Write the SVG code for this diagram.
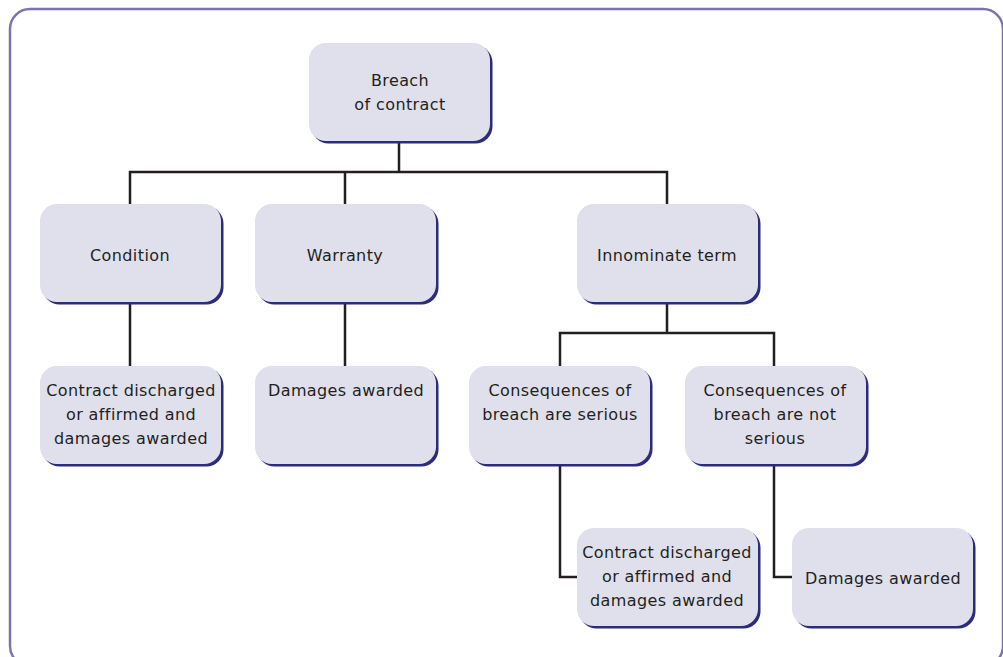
<svg xmlns="http://www.w3.org/2000/svg" width="1003" height="657" viewBox="0 0 1003 657">
<style>
.sh{fill:#2d2b7c}
.bx{fill:#e0dfec}
.t{font-family:"DejaVu Sans",sans-serif;font-size:16px;letter-spacing:0.4px;fill:#231f20;text-anchor:middle;dominant-baseline:central}
.c{fill:none;stroke:#231f20;stroke-width:2.5}
</style>
<rect x="10" y="9" width="993" height="657" rx="20" fill="#ffffff" stroke="#7b72b1" stroke-width="2.5"/>
<g id="connectors">
<path class="c" d="M399 142V172M130 204V172H667V204M345 172V204"/>
<path class="c" d="M130 303V366M345 303V366"/>
<path class="c" d="M667 303V333M560 366V333H774V366"/>
<path class="c" d="M560 465V577H578M774 465V577H793"/>
</g>
<g id="breach"><rect class="sh" x="311.5" y="45.5" width="181" height="98" rx="17"/><rect class="bx" x="309" y="43" width="181" height="98" rx="17"/><text class="t" x="400" y="80">Breach</text><text class="t" x="400" y="104">of contract</text></g>
<g id="condition"><rect class="sh" x="42.5" y="206.5" width="181" height="98" rx="17"/><rect class="bx" x="40" y="204" width="181" height="98" rx="17"/><text class="t" x="130" y="255">Condition</text></g>
<g id="warranty"><rect class="sh" x="257.5" y="206.5" width="181" height="98" rx="17"/><rect class="bx" x="255" y="204" width="181" height="98" rx="17"/><text class="t" x="345" y="255">Warranty</text></g>
<g id="innominate"><rect class="sh" x="579.5" y="206.5" width="181" height="98" rx="17"/><rect class="bx" x="577" y="204" width="181" height="98" rx="17"/><text class="t" x="667" y="255">Innominate term</text></g>
<g id="cond-result"><rect class="sh" x="42.5" y="368.5" width="181" height="98" rx="17"/><rect class="bx" x="40" y="366" width="181" height="98" rx="17"/><text class="t" x="131" y="390">Contract discharged</text><text class="t" x="131" y="414">or affirmed and</text><text class="t" x="131" y="438">damages awarded</text></g>
<g id="warr-result"><rect class="sh" x="257.5" y="368.5" width="181" height="98" rx="17"/><rect class="bx" x="255" y="366" width="181" height="98" rx="17"/><text class="t" x="346" y="390">Damages awarded</text></g>
<g id="serious"><rect class="sh" x="471.5" y="368.5" width="181" height="98" rx="17"/><rect class="bx" x="469" y="366" width="181" height="98" rx="17"/><text class="t" x="560" y="390">Consequences of</text><text class="t" x="560" y="414">breach are serious</text></g>
<g id="not-serious"><rect class="sh" x="687.5" y="368.5" width="181" height="98" rx="17"/><rect class="bx" x="685" y="366" width="181" height="98" rx="17"/><text class="t" x="775" y="390">Consequences of</text><text class="t" x="775" y="414">breach are not</text><text class="t" x="775" y="438">serious</text></g>
<g id="serious-result"><rect class="sh" x="579.5" y="530.5" width="181" height="98" rx="17"/><rect class="bx" x="577" y="528" width="181" height="98" rx="17"/><text class="t" x="667" y="552">Contract discharged</text><text class="t" x="667" y="576">or affirmed and</text><text class="t" x="667" y="600">damages awarded</text></g>
<g id="not-serious-result"><rect class="sh" x="794.5" y="530.5" width="181" height="98" rx="17"/><rect class="bx" x="792" y="528" width="181" height="98" rx="17"/><text class="t" x="883" y="578">Damages awarded</text></g>
</svg>
